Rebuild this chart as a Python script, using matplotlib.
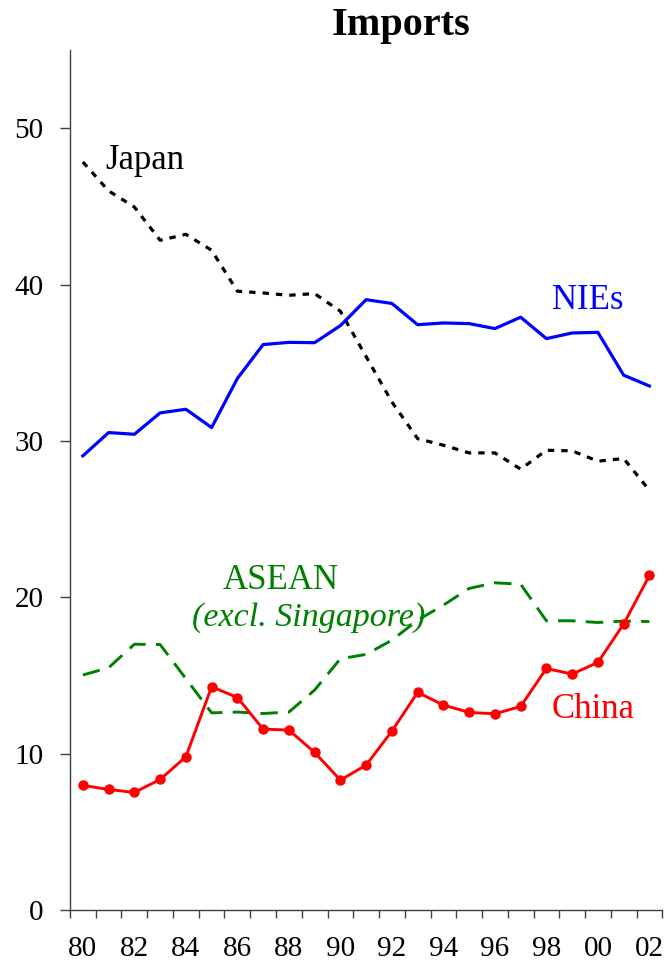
import matplotlib
matplotlib.use('Agg')
from matplotlib import pyplot as plt

# years 1980..2002, share of imports (%)
years = list(range(1980, 2003))
nies = [29.05, 30.54, 30.43, 31.80, 32.03, 30.86, 34.0, 36.17, 36.31, 36.29, 37.38, 39.04,
        38.8, 37.44, 37.55, 37.51, 37.19, 37.92, 36.55, 36.91, 36.95, 34.21, 33.52]
japan = [47.85, 46.0, 44.97, 42.84, 43.22, 42.2, 39.58, 39.47, 39.32, 39.43, 38.3, 35.4,
         32.5, 30.15, 29.73, 29.24, 29.24, 28.2, 29.41, 29.37, 28.71, 28.88, 26.85]
asean = [15.03, 15.5, 17.0, 16.98, 14.8, 12.61, 12.66, 12.57, 12.66, 14.07, 16.07, 16.35,
         17.26, 18.54, 19.5, 20.57, 20.93, 20.84, 18.5, 18.5, 18.39, 18.48, 18.45]
china = [7.97, 7.71, 7.52, 8.35, 9.8, 14.28, 13.59, 11.57, 11.51, 10.08, 8.31, 9.27,
         11.44, 13.92, 13.11, 12.64, 12.55, 13.02, 15.45, 15.09, 15.84, 18.29, 21.4]
year_labels = ['80', '82', '84', '86', '88', '90', '92', '94', '96', '98', '00', '02']

plt.rcParams['font.family'] = ['Liberation Serif', 'DejaVu Serif']

fig = plt.figure(figsize=(6.64, 9.65), dpi=100)
ax = fig.add_axes([0.1054, 0.057, 0.892, 0.891])

pos = list(range(len(years)))

ax.plot(pos, japan, color='black', lw=2.3, linestyle=(0, (2, 2.2)))
ax.plot(pos, nies, color='#0000ff', lw=2.3)
ax.plot(pos, asean, color='#008000', lw=2.1, linestyle=(0, (6, 3.5)))
ax.plot(pos, china, color='#ff0000', lw=2.1, marker='o', markersize=6.5)

# labels on the lines
ax.text(0.86, 47.95, 'Japan', fontsize=25, color='black', va='center', ha='left')
ax.text(18.2, 39.0, 'NIEs', fontsize=25, color='#0000ff', va='center', ha='left')
ax.text(7.67, 21.1, 'ASEAN', fontsize=25, color='#008000', va='center', ha='center')
ax.text(8.76, 18.7, '(excl. Singapore)', fontsize=24.5, color='#008000', va='center',
        ha='center', style='italic')
ax.text(18.2, 12.8, 'China', fontsize=25, color='#ff0000', va='center', ha='left')

fig.text(0.604, 0.974, 'Imports', fontsize=29, fontweight='bold', ha='center', va='center')

# axes styling
ax.set_ylim(0, 55)
ax.set_xlim(-0.5, len(years) - 0.5)
ax.set_yticks([0, 10, 20, 30, 40, 50])
ax.set_xticks([p - 0.5 for p in pos] + [len(years) - 0.5])
ax.set_xticklabels([])
ax.set_xticks(pos[::2], minor=True)
ax.set_xticklabels(year_labels, minor=True)
ax.tick_params(axis='x', which='major', direction='out', length=6, width=1, color='#404040')
ax.tick_params(axis='x', which='minor', length=0, pad=19, labelsize=21)
ax.tick_params(axis='y', direction='out', length=7, width=1, color='#404040', pad=12,
               labelsize=21)

for s in ['top', 'right']:
    ax.spines[s].set_visible(False)
for s in ['left', 'bottom']:
    ax.spines[s].set_color('#404040')
    ax.spines[s].set_linewidth(1)

fig.savefig('out.png', dpi=100)
